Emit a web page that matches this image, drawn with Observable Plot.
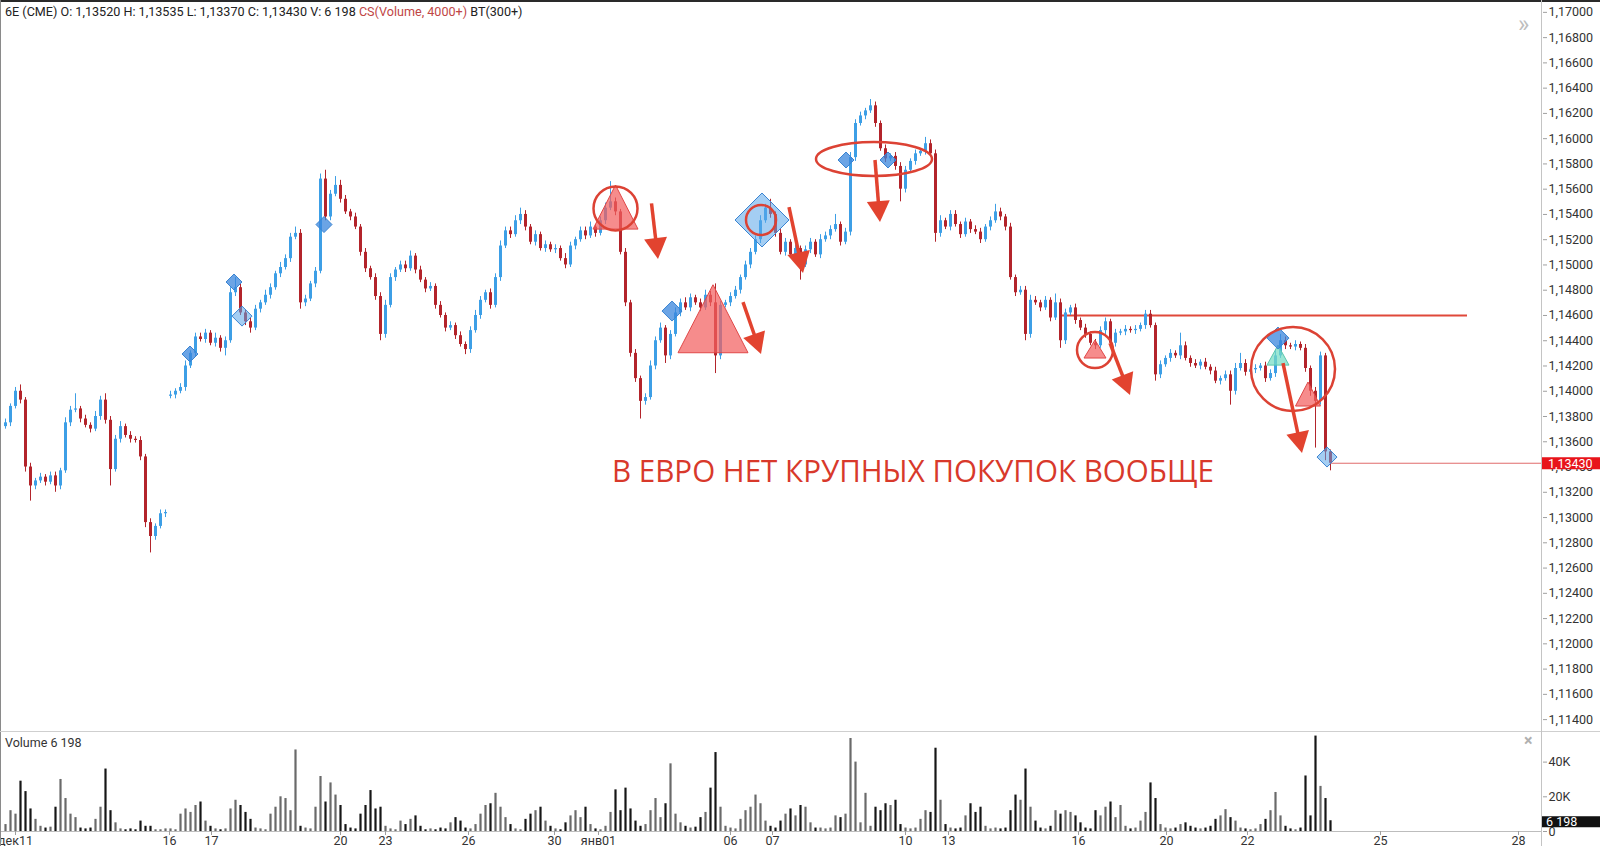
<!DOCTYPE html>
<html><head><meta charset="utf-8">
<script src="https://cdn.jsdelivr.net/npm/d3@7"></script>
<script src="https://cdn.jsdelivr.net/npm/@observablehq/plot@0.6"></script>
<style>
html,body{margin:0;padding:0;background:#fff;}
#wrap{position:relative;width:1600px;height:846px;overflow:hidden;font-family:Roboto,sans-serif;background:#fff;}
#price{position:absolute;left:0;top:0;}
#vol{position:absolute;left:0;top:732px;}
.abs{position:absolute;}
#hdr{left:5px;top:5px;font-size:12.6px;line-height:13px;color:#222;white-space:pre;}
#hdr span{color:#c04646;}
#vlab{left:5px;top:736px;font-size:12.5px;line-height:13px;color:#333;white-space:pre;}
</style></head><body>
<div id="wrap">
  <div id="price"></div>
  <div id="vol"></div>
  <div class="abs" style="left:0;top:0;width:1600px;height:2px;background:#2a2a2a"></div>
  <div class="abs" style="left:0;top:0;width:1px;height:846px;background:#8a8a8a"></div>
  <div class="abs" style="left:0;top:731px;width:1600px;height:1px;background:#cfcfcf"></div>
  <div class="abs" style="left:1541px;top:0;width:1px;height:846px;background:#c4c4c4"></div>
  <div class="abs" id="hdr"></div>
  <div class="abs" id="vlab"></div>
  <div class="abs" style="left:1518px;top:12px;font-size:24px;line-height:24px;color:#bdbdbd;">»</div>
  <div class="abs" style="left:1524px;top:733px;font-size:16px;line-height:16px;color:#b0b0b0;font-weight:bold;">×</div>
</div>
<script>
// ---------------- data ----------------
const closes = [
1.1375,1.1388,1.1400,1.1393,1.1340,1.1325,1.1329,1.1332,1.1328,1.1333,
1.1325,1.1337,1.1375,1.1385,1.1386,1.1378,1.1373,1.1370,1.1380,1.1393,
1.1377,1.1338,1.1362,1.1372,1.1365,1.1362,1.1361,1.1348,1.1296,1.1285,
1.1293,1.1303,1.1304,1.1397,1.1400,1.1403,1.1420,1.1430,1.1443,1.1441,
1.1446,1.1438,1.1442,1.1434,1.1440,1.1478,1.1482,1.1462,1.1455,1.1450,
1.1465,1.1470,1.1476,1.1482,1.1493,1.1498,1.1505,1.1522,1.1525,1.1470,
1.1473,1.1485,1.1495,1.1568,1.1538,1.1556,1.1563,1.1552,1.1542,1.1538,
1.1530,1.1510,1.1497,1.1490,1.1475,1.1445,1.1468,1.1490,1.1496,1.1500,
1.1497,1.1507,1.1496,1.1488,1.1481,1.1483,1.1468,1.1460,1.1450,1.1452,
1.1444,1.1437,1.1433,1.1448,1.1460,1.1472,1.1478,1.1468,1.1490,1.1515,
1.1527,1.1524,1.1535,1.1540,1.1530,1.1518,1.1524,1.1513,1.1516,1.1512,
1.1513,1.1505,1.1500,1.1515,1.1520,1.1527,1.1523,1.1530,1.1525,1.1535,
1.1545,1.1550,1.1542,1.1510,1.1470,1.1430,1.1410,1.1392,1.1395,1.1420,
1.1440,1.1450,1.1428,1.1445,1.1462,1.1470,1.1466,1.1474,1.1470,1.1466,
1.1476,1.1470,1.1428,1.1468,1.1470,1.1475,1.1480,1.1490,1.1500,1.1510,
1.1520,1.1535,1.1545,1.1540,1.1525,1.1510,1.1518,1.1508,1.1513,1.1500,
1.1512,1.1518,1.1508,1.1520,1.1523,1.1528,1.1532,1.1518,1.1526,1.1585,
1.1612,1.1618,1.1622,1.1626,1.1612,1.1592,1.1584,1.1586,1.1578,1.1560,
1.1575,1.1582,1.1588,1.1590,1.1596,1.1588,1.1525,1.1535,1.1530,1.1540,
1.1532,1.1524,1.1534,1.1528,1.1526,1.1520,1.1530,1.1535,1.1542,1.1538,
1.1530,1.1490,1.1478,1.1480,1.1445,1.1472,1.1470,1.1466,1.1472,1.1458,
1.1470,1.1440,1.1462,1.1466,1.1456,1.1450,1.1445,1.1438,1.1436,1.1448,
1.1455,1.1438,1.1446,1.1447,1.1449,1.1448,1.1449,1.1452,1.1461,1.1452,
1.1413,1.1421,1.1426,1.1430,1.1428,1.1436,1.1426,1.1422,1.1420,1.1423,
1.1419,1.1416,1.1408,1.1410,1.1413,1.1400,1.1418,1.1422,1.1415,1.1417,
1.1418,1.1420,1.1410,1.1414,1.1428,1.1440,1.1436,1.1435,1.1437,1.1434,
1.1418,1.1400,1.1392,1.1428,1.13520,1.13430];
// wick lengths beyond the body, in pips
const wickUp = [
3,2,3,5,2,3,2,3,2,3, 3,2,4,3,12,2,3,2,4,3, 5,3,3,4,2,3,2,3,2,3, 2,3,2,3,2,3,4,2,3,3,
3,2,4,2,3,4,8,3,2,3, 3,2,4,3,2,4,3,3,5,3, 3,2,3,4,7,3,7,4,3,2, 3,2,3,2,3,3,4,3,2,3,
3,4,2,3,2,3,2,3,2,3, 2,3,2,3,4,3,2,3,3,4, 3,3,4,5,3,2,3,2,3,2, 3,2,4,3,2,3,3,4,2,3,
4,16,3,2,3,2,3,2,3,4, 3,4,2,3,4,3,4,3,2,3, 4,3,15,3,2,3,3,2,3,3, 3,4,3,7,2,3,3,2,3,2,
3,3,2,4,3,3,8,2,3,4, 3,3,2,5,3,2,3,2,3,3, 3,2,3,2,5,3,3,4,2,3, 3,2,3,2,3,3,2,3,6,3,
2,3,2,3,3,4,3,2,3,2, 7,3,3,2,3,2,3,2,3,3, 3,2,3,2,3,2,3,2,3,3, 2,3,2,3,2,10,3,2,3,2,
3,2,3,2,3,3,4,8,3,2, 3,2,3,3,4,5,3,2,3,2, 3,2,3,3,2,1.5];
const wickDn = [
2,3,2,3,4,12,3,2,3,2, 5,3,2,3,2,3,2,3,2,3, 3,13,2,3,2,3,2,3,4,13, 3,2,3,2,3,2,3,2,3,2,
3,2,3,3,6,2,3,2,3,4, 2,3,2,3,2,3,2,3,2,5, 3,2,3,2,3,3,2,3,2,3, 2,3,3,2,3,5,3,2,3,2,
3,2,3,2,3,2,3,2,3,2, 3,2,4,3,2,3,2,3,2,3, 2,3,2,3,3,2,3,2,3,2, 3,2,3,2,3,2,3,2,3,2,
3,2,3,2,3,3,3,14,3,2, 3,2,6,3,2,3,2,3,2,3, 2,3,14,3,2,3,2,3,2,3, 2,3,2,3,3,2,3,2,3,12,
2,3,2,3,2,3,2,3,2,3, 3,2,3,2,3,2,3,2,3,10, 3,2,3,2,3,2,7,3,2,3, 2,3,2,3,2,3,2,3,2,3,
3,2,3,2,5,3,2,3,2,3, 2,6,3,2,3,2,3,2,3,2, 3,2,3,2,3,2,3,2,3,2, 5,3,2,3,2,3,2,3,2,3,
2,3,2,3,2,11,3,2,3,2, 3,2,3,2,3,2,3,2,3,2, 3,4,37,3,7,6];
const volumes = [
4000,12000,10000,29000,23000,13000,7000,3000,2000,2500,
14000,30000,19000,10000,8000,2000,1500,2000,7000,14000,
36000,12000,5000,1500,1000,1500,1000,6000,3000,3000,
1000,1000,1500,1500,1000,10000,13000,11000,15000,17000,
6000,3000,1500,1000,1500,13000,18000,15000,11000,7000,
2000,1500,1000,10000,14000,20000,19000,12000,47000,3000,
2000,1500,14000,31700,17000,28000,21000,15000,4000,2000,
1500,10000,15000,23600,13000,14000,3000,1500,1000,6000,
4000,7000,9000,3000,1000,1500,1000,2000,1500,5000,
8000,6000,2000,1500,4000,10000,15000,16000,22000,14000,
8000,4000,1500,1000,7000,10000,12000,14000,6000,3000,
1500,1000,5000,9000,12000,8000,14000,4000,1500,1000,
3000,11000,24000,12000,25000,13000,6000,3000,4000,12000,
19000,8000,16000,39000,10000,5000,3000,2000,2500,8000,
11000,25000,45500,14000,3000,2000,1500,7000,12000,14000,
21000,16000,6000,3000,2000,6000,10000,13000,9000,15000,
14000,5000,2000,2000,1500,2000,9000,8000,10000,53600,
40000,5000,22000,3000,14000,12000,16000,15000,18000,4000,
2000,1500,2000,7000,12000,11000,48000,18000,4000,2000,
1500,2000,9000,16000,11000,14000,3000,1500,2000,1500,
2000,12000,21000,18000,36000,14000,6000,2000,1500,3000,
12000,10000,12000,11000,9000,5000,2000,1500,12000,9000,
14000,17000,8000,15000,3000,1500,2000,6000,11000,28000,
19000,4000,2000,1500,2000,4000,5000,3000,2000,1500,
2000,3000,7000,9000,12600,8000,6000,2000,1500,1000,
1500,4000,7000,12000,22500,9000,3000,1500,1000,2000,
32000,9000,55000,26000,19000,6198];
const sessionOpens = [[0, 1.1372], [33, 1.1396]];
const xTickPos = [2, 32.8, 41.2, 67, 76, 92.6, 109.8, 118.6, 145, 153.4, 180, 188.6, 214.6, 232.2, 248.4, 275, 302.6];
const xTickLabels = ["дек11","16","17","20","23","26","30","янв01","06","07","10","13","16","20","22","25","28"];
const priceTicks = [1.114,1.116,1.118,1.120,1.122,1.124,1.126,1.128,1.130,1.132,1.134,1.136,1.138,1.140,1.142,1.144,1.146,1.148,1.150,1.152,1.154,1.156,1.158,1.160,1.162,1.164,1.166,1.168,1.170];
const volTicks = [0, 20000, 40000];
const volTickLabels = ["0", "20K", "40K"];
const resistance = {price: 1.1460, from: 211.2, to: 292.4};
const noteText = {i: 181.6, price: 1.1328, text: "В ЕВРО НЕТ КРУПНЫХ ПОКУПОК ВООБЩЕ"};
const noteCircles = [[122.1, 1.15444], [151.2, 1.15352], [218, 1.14322], [257.6, 1.14172]];
const noteEllipse = [173.8, 1.15835];
const noteTriangles = [[122.1, 1.1528], [141.6, 1.14301], [218, 1.14259], [254.6, 1.14203], [260.6, 1.13879]];
const noteDiamonds = [[37, 1.14291], [45.8, 1.14861], [47.4, 1.14591], [63.8, 1.15316], [133.4, 1.14631], [151.4, 1.15352], [168.2, 1.15827], [176.6, 1.15827], [254.6, 1.14417], [264.4, 1.13475]];
const noteArrows = [[129.3, 1.15484, 130.6, 1.15043], [147.6, 1.14702, 151.2, 1.14291], [156.8, 1.15454, 159.6, 1.14932], [174, 1.15827, 175, 1.15336], [221, 1.14378, 225, 1.13966], [255.6, 1.14219, 259.4, 1.13507]];

// ---------------- styles ----------------
const BLUE = "#3d9fe6", RED = "#b3242b";
const NOTE_RED = "#dc4234";
const circleR = [22, 15, 18, 42];
const ellipseR = [58, 17];
const triSize = [[45, 44], [70, 68], [22, 18], [22, 20], [25, 24]];
const triTeal = [false, false, false, true, false];
const diamondH = [8, 8, 10, 8, 10, 27, 8, 8, 11, 10];
const diamondStrong = [true, true, false, true, true, false, true, true, true, false];

// ---------------- build ----------------
const PIP = 0.0001;
const openMap = new Map(sessionOpens);
const candles = closes.map((c, i) => {
  const o = openMap.has(i) ? openMap.get(i) : closes[i - 1];
  return {i, open: o, close: c, high: Math.max(o, c) + wickUp[i] * PIP, low: Math.min(o, c) - wickDn[i] * PIP, vol: volumes[i], up: c >= o};
});
const last = candles[candles.length - 1];
const fmtP = d => d.toFixed(5).replace(".", ",");
const fmtV = v => String(v).replace(/\B(?=(\d{3})+(?!\d))/g, " ");

document.getElementById("hdr").innerHTML =
  `6E (CME) O: ${fmtP(last.open)} H: ${fmtP(last.high)} L: ${fmtP(last.low)} C: ${fmtP(last.close)} V: ${fmtV(last.vol)} <span>CS(Volume, 4000+)</span> BT(300+)`;
document.getElementById("vlab").textContent = `Volume ${fmtV(last.vol)}`;

const xDomain = [-1, 307.4];
const common = {
  width: 1600, marginLeft: 0, marginRight: 58,
  style: {fontFamily: "Roboto, sans-serif", fontSize: "12.5px", color: "#333", background: "transparent", overflow: "visible"},
  color: {type: "identity"}
};

const priceSvg = Plot.plot({
  ...common, height: 732, marginTop: 0, marginBottom: 0,
  x: {domain: xDomain, axis: null},
  y: {domain: [1.11298, 1.17094], axis: null},
  marks: [
    Plot.axisY(priceTicks, {anchor: "right", tickSize: 4, tickPadding: 2, tickFormat: fmtP, stroke: "#a0a0a0", fill: "#333", label: null}),
    Plot.ruleY([resistance], {y: "price", x1: "from", x2: "to", stroke: "#e0483a", strokeWidth: 2}),
    Plot.ruleY([last], {y: "close", x1: "i", x2: () => xDomain[1], stroke: "#e06a6a", strokeWidth: 1}),
    Plot.ruleX(candles, {x: "i", y1: "low", y2: "high", stroke: d => d.up ? BLUE : RED, strokeWidth: 1}),
    Plot.ruleX(candles, {x: "i", y1: "open", y2: "close", stroke: d => d.up ? BLUE : RED, strokeWidth: 3})
  ]
});
document.getElementById("price").appendChild(priceSvg);

const labMap = new Map(xTickPos.map((p, k) => [p, xTickLabels[k]]));
const volMap = new Map(volTicks.map((p, k) => [p, volTickLabels[k]]));
const volSvg = Plot.plot({
  ...common, height: 114, marginTop: 0, marginBottom: 15,
  x: {domain: xDomain, axis: null},
  y: {domain: [0, 57060], axis: null},
  marks: [
    Plot.ruleX(candles, {x: "i", y1: 0, y2: "vol", stroke: d => d.up ? "#6a6a6a" : "#161616", strokeWidth: 2.2}),
    Plot.ruleY([0], {stroke: "#bdbdbd"}),
    Plot.axisX(xTickPos, {anchor: "bottom", tickSize: 4, tickPadding: 1, tickFormat: d => labMap.get(d), stroke: "#a0a0a0", fill: "#333", label: null}),
    Plot.axisY(volTicks, {anchor: "right", tickSize: 4, tickPadding: 2, tickFormat: d => volMap.get(d), stroke: "#a0a0a0", fill: "#333", label: null})
  ]
});
document.getElementById("vol").appendChild(volSvg);

// scales from the plots
function lin(svg, name) { const s = svg.scale(name); return d3.scaleLinear(s.domain, s.range); }
const X = lin(priceSvg, "x"), Y = lin(priceSvg, "y");
const YV = lin(volSvg, "y");

// price tag & volume tag
const ps = d3.select(priceSvg);
const ty = Y(last.close);
ps.append("rect").attr("x", 1542).attr("y", ty - 5.5).attr("width", 58).attr("height", 12).attr("fill", "#e8141b");
ps.append("text").attr("x", 1548).attr("y", ty + 5).attr("text-anchor", "start").attr("fill", "#fff").attr("font-size", 12.5).attr("font-family", "Roboto").text(fmtP(last.close));
const vs = d3.select(volSvg);
const vy = YV(last.vol);
vs.append("rect").attr("x", 1542).attr("y", vy - 4).attr("width", 58).attr("height", 11).attr("fill", "#111");
vs.append("text").attr("x", 1546).attr("y", vy + 5.5).attr("text-anchor", "start").attr("fill", "#fff").attr("font-size", 12.5).attr("font-family", "Roboto").text(fmtV(last.vol));

// annotations
const g = ps.append("g");
noteTriangles.forEach(([i, p], k) => {
  const [w, h] = triSize[k], cx = X(i), by = Y(p);
  g.append("polygon").attr("points", `${cx},${by - h} ${cx - w / 2},${by} ${cx + w / 2},${by}`)
    .attr("fill", triTeal[k] ? "#74dcc3" : "#f25f5f").attr("fill-opacity", 0.72)
    .attr("stroke", triTeal[k] ? "#5cc7ad" : "#e04848").attr("stroke-width", 1);
});
noteDiamonds.forEach(([i, p], k) => {
  const h = diamondH[k], cx = X(i), cy = Y(p);
  g.append("polygon").attr("points", `${cx},${cy - h} ${cx + h},${cy} ${cx},${cy + h} ${cx - h},${cy}`)
    .attr("fill", diamondStrong[k] ? "#3a86dc" : "#5aa6ea").attr("fill-opacity", diamondStrong[k] ? 0.75 : 0.55)
    .attr("stroke", "#3a84d2").attr("stroke-width", 1);
});
noteCircles.forEach(([i, p], k) => {
  g.append("circle").attr("cx", X(i)).attr("cy", Y(p)).attr("r", circleR[k])
    .attr("fill", "none").attr("stroke", NOTE_RED).attr("stroke-width", 2.5);
});
g.append("ellipse").attr("cx", X(noteEllipse[0])).attr("cy", Y(noteEllipse[1])).attr("rx", ellipseR[0]).attr("ry", ellipseR[1])
  .attr("fill", "none").attr("stroke", NOTE_RED).attr("stroke-width", 2.5);
noteArrows.forEach(([i1, p1, i2, p2]) => {
  const x1 = X(i1), y1 = Y(p1), x2 = X(i2), y2 = Y(p2);
  const dx = x2 - x1, dy = y2 - y1, L = Math.hypot(dx, dy), ux = dx / L, uy = dy / L;
  const hl = 21, hw = 11.5;
  const bx = x2 - ux * hl, by = y2 - uy * hl;
  g.append("line").attr("x1", x1).attr("y1", y1).attr("x2", bx + ux * 3).attr("y2", by + uy * 3)
    .attr("stroke", "#e2432f").attr("stroke-width", 3.5);
  g.append("polygon").attr("points", `${x2},${y2} ${bx - uy * hw},${by + ux * hw} ${bx + uy * hw},${by - ux * hw}`)
    .attr("fill", "#e2432f");
});
g.append("text").attr("x", X(noteText.i)).attr("y", Y(noteText.price)).attr("text-anchor", "middle")
  .attr("font-family", "Open Sans").attr("font-size", 31).attr("fill", "#d8392b")
  .attr("textLength", 602).attr("lengthAdjust", "spacingAndGlyphs").text(noteText.text);
</script>
</body></html>
